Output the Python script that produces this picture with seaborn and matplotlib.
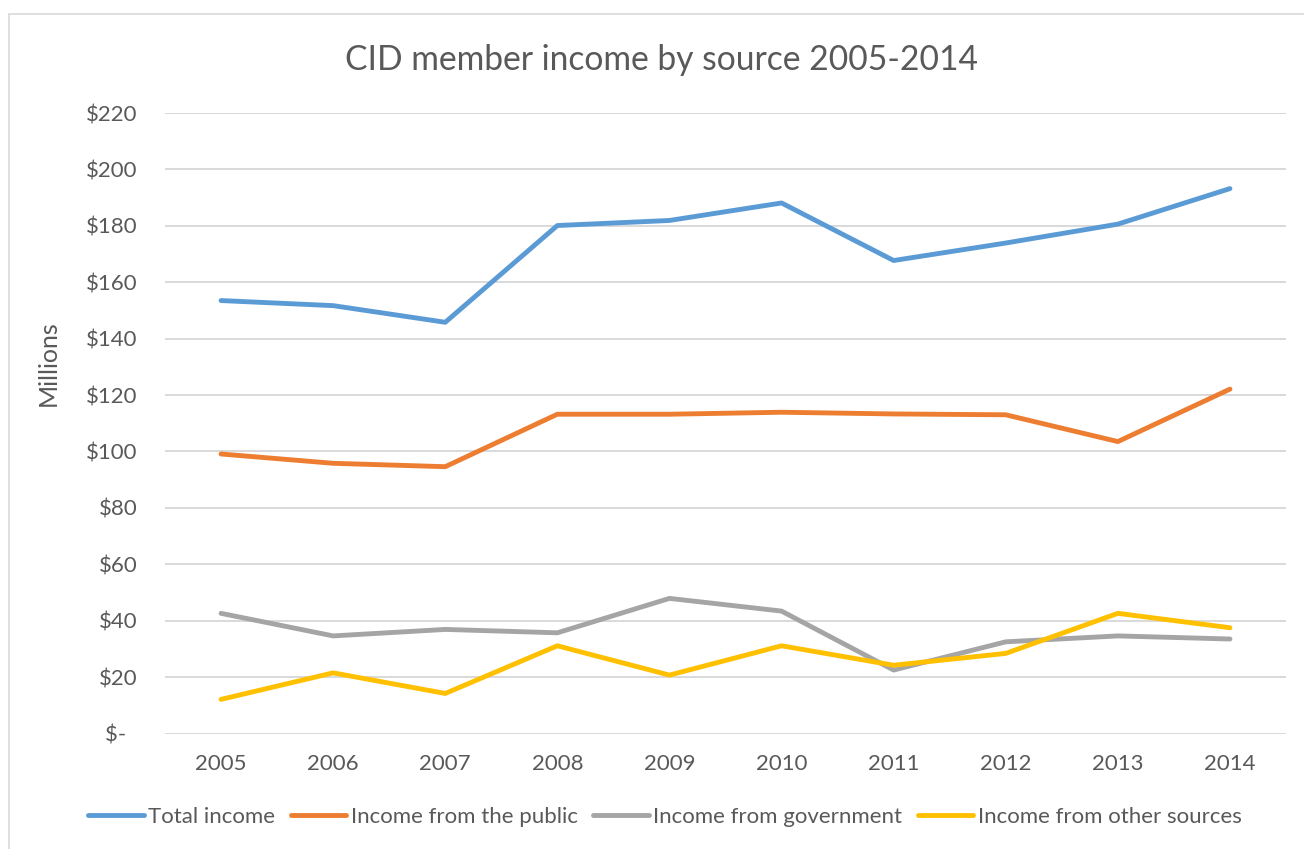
import pandas as pd
import matplotlib.pyplot as plt
import matplotlib.patches as patches
from matplotlib.ticker import FuncFormatter
import seaborn as sns

# Dados (milhões de dólares)
anos = [2005, 2006, 2007, 2008, 2009, 2010, 2011, 2012, 2013, 2014]
total = [153.5, 151.7, 145.8, 180.1, 181.9, 188.1, 167.7, 173.9, 180.6, 193.2]
publico = [99.1, 95.8, 94.6, 113.2, 113.2, 113.9, 113.3, 113.0, 103.5, 122.1]
governo = [42.6, 34.6, 36.9, 35.7, 47.9, 43.4, 22.5, 32.5, 34.6, 33.5]
outros = [12.1, 21.5, 14.2, 31.1, 20.7, 31.1, 24.2, 28.4, 42.6, 37.5]

series = ["Total income", "Income from the public",
          "Income from government", "Income from other sources"]
cores = ["#5B9BD5", "#ED7D31", "#A5A5A5", "#FFC000"]

df = pd.DataFrame({"ano": anos * 4,
                   "valor": total + publico + governo + outros,
                   "serie": [s for s in series for _ in anos]})

sns.set_style("white")
plt.rcParams["font.family"] = ["Lato", "DejaVu Sans"]
cinza = "#595959"
W, H = 1304, 849

fig = plt.figure(figsize=(W / 100, H / 100), dpi=100)
ax = fig.add_axes([165 / W, 1 - 733.5 / H, 1121 / W, 620.5 / H])

# borda do gráfico
fig.patches.append(patches.Rectangle((9 / W, -0.1), 1.2, 1 - 14 / H + 0.1,
                                     transform=fig.transFigure, fill=False,
                                     edgecolor="#D9D9D9", linewidth=1.2))

sns.lineplot(data=df, x="ano", y="valor", hue="serie", palette=cores,
             linewidth=3.5, ax=ax, legend=True)

ax.set_xlim(2005 - 0.5, 2014 + 0.5)
ax.set_ylim(0, 220)
ax.set_xticks(anos)
ax.set_yticks(range(0, 221, 20))
ax.yaxis.set_major_formatter(FuncFormatter(lambda v, p: "$-  " if v == 0 else "${:.0f}".format(v)))
ax.grid(axis="y", color="#D9D9D9", linewidth=1.4)
ax.set_axisbelow(True)
for s in ax.spines.values():
    s.set_visible(False)
ax.tick_params(axis="both", length=0, labelsize=16, colors=cinza)
ax.tick_params(axis="x", pad=15)
ax.tick_params(axis="y", pad=20)

ax.set_xlabel("")
ax.set_ylabel("Millions", fontsize=18, color=cinza)
ax.yaxis.set_label_coords(-0.094, 0.597)

fig.text(662 / W, 1 - 60 / H, "CID member income by source 2005-2014",
         ha="center", va="center", fontsize=24.2, color=cinza)

h, l = ax.get_legend_handles_labels()
ax.legend(h, l, loc="center", bbox_to_anchor=(665 / W, 1 - 817 / H),
          bbox_transform=fig.transFigure, ncol=4, frameon=False,
          fontsize=16, handlelength=2.5, handletextpad=0.2,
          columnspacing=0.7, labelcolor=cinza)

plt.savefig("out.png", dpi=100)
